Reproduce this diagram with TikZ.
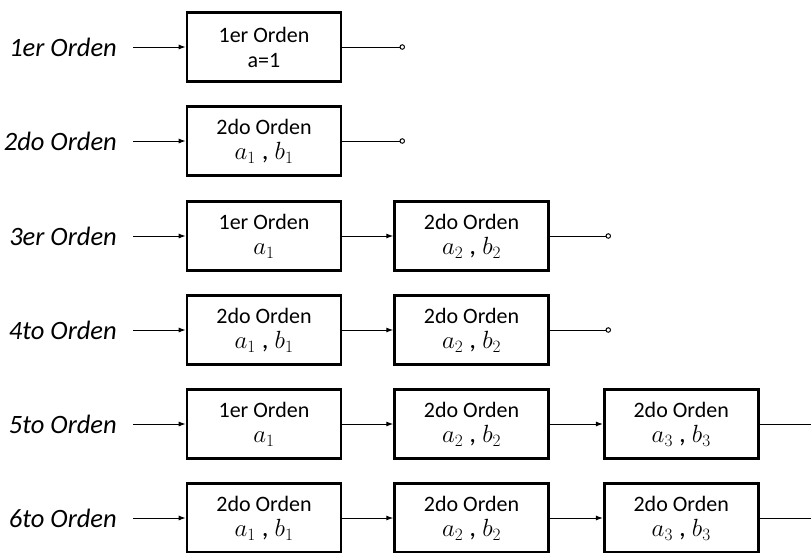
\documentclass[tikz,border=0pt]{standalone}
\usepackage{fontspec}
\setmainfont{Carlito}
\usetikzlibrary{positioning,arrows.meta}
\newcommand{\mat}[1]{{\fontsize{27}{24}\selectfont#1}}
\tikzset{
  bloque/.style={draw, line width=2.6pt, minimum width=154pt, minimum height=69pt, inner sep=0pt, align=center, font=\fontsize{22}{25}\selectfont},
  etiq/.style={anchor=east, inner xsep=16pt, font=\fontsize{26.5}{28}\selectfont\itshape},
  flecha/.style={-{Latex[length=7pt,width=5pt]}, line width=1pt},
  salida/.style={-{Circle[open,length=5.5pt,width=5.5pt,line width=1pt]}, line width=1pt},
  corte/.style={line width=1pt},
}
\begin{document}
\begin{tikzpicture}[x=1pt, y=-1pt]
  \clip (0,0) rectangle (811,552);
  % entradas
  \foreach \f/\y/\lab in {1/47/1er Orden, 2/141/2do Orden, 3/236/3er Orden, 4/330/4to Orden, 5/424/5to Orden, 6/518/6to Orden} {
    \node[etiq] (l\f) at (133,\y) {\lab};
  }
  % bloques
  \node[bloque] (b1a) at (264,47) {1er Orden\\a=1};
  \node[bloque] (b2a) at (264,141) {2do Orden\\\mat{$a_1$ , $b_1$}};
  \node[bloque] (b3a) at (264,236) {1er Orden\\\mat{$a_1$}};
  \node[bloque, right=51pt of b3a] (b3b) {2do Orden\\\mat{$a_2$ , $b_2$}};
  \node[bloque] (b4a) at (264,330) {2do Orden\\\mat{$a_1$ , $b_1$}};
  \node[bloque, right=51pt of b4a] (b4b) {2do Orden\\\mat{$a_2$ , $b_2$}};
  \node[bloque] (b5a) at (264,424) {1er Orden\\\mat{$a_1$}};
  \node[bloque, right=51pt of b5a] (b5b) {2do Orden\\\mat{$a_2$ , $b_2$}};
  \node[bloque, right=53pt of b5b] (b5c) {2do Orden\\\mat{$a_3$ , $b_3$}};
  \node[bloque] (b6a) at (264,518) {2do Orden\\\mat{$a_1$ , $b_1$}};
  \node[bloque, right=51pt of b6a] (b6b) {2do Orden\\\mat{$a_2$ , $b_2$}};
  \node[bloque, right=53pt of b6b] (b6c) {2do Orden\\\mat{$a_3$ , $b_3$}};
  % conexiones
  \foreach \f in {1,...,6} \draw[flecha] (l\f) -- (b\f a);
  \draw[flecha] (b3a) -- (b3b);
  \draw[flecha] (b4a) -- (b4b);
  \draw[flecha] (b5a) -- (b5b);
  \draw[flecha] (b5b) -- (b5c);
  \draw[flecha] (b6a) -- (b6b);
  \draw[flecha] (b6b) -- (b6c);
  % salidas
  \coordinate (s1) at (405,47);
  \coordinate (s2) at (405,141);
  \coordinate (s3) at (611,236);
  \coordinate (s4) at (611,330);
  \coordinate (s5) at (830,424);
  \coordinate (s6) at (830,518);
  \foreach \f/\b in {1/b1a, 2/b2a, 3/b3b, 4/b4b} \draw[salida] (\b) -- (s\f);
  \draw[corte] (b5c) -- (s5);
  \draw[corte] (b6c) -- (s6);
\end{tikzpicture}
\end{document}
